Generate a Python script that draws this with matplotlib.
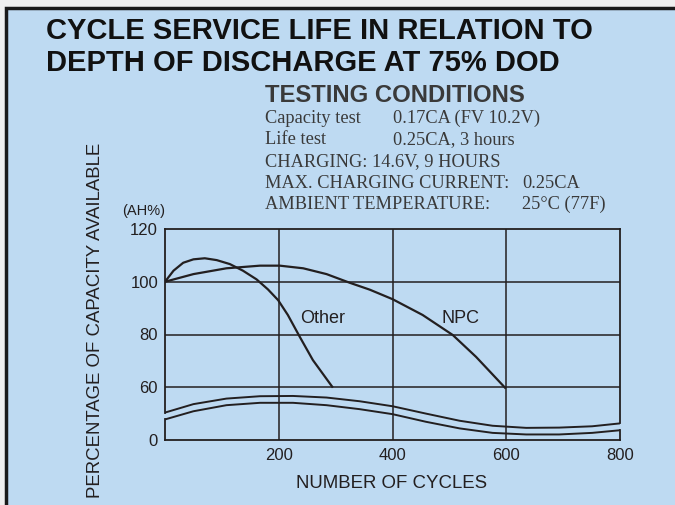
import matplotlib.pyplot as plt
from matplotlib.patches import Rectangle

# --- data ---
# y is drawn on a broken axis: tick "0" sits at position 40
y_tick_pos = [40, 60, 80, 100, 120]
y_tick_labels = ['0', '60', '80', '100', '120']
x_ticks = [200, 400, 600, 800]

other_x = [0, 15, 32, 50, 70, 91, 114, 137, 161, 181, 199, 216, 237, 260, 294]
other_y = [100, 104.2, 107.2, 108.5, 108.9, 108.2, 106.7, 104.2, 100.9, 97.1, 93, 87.4, 79.1, 70.3, 60.2]

npc_x = [0, 50, 108, 167, 202, 243, 284, 325, 360, 400, 453, 506, 547, 598]
npc_y = [100, 102.9, 105.1, 106.1, 106.1, 105.1, 102.9, 99.6, 97, 93.4, 87.4, 79.8, 71.5, 59.8]

# decorative break band near the bottom
band_x = [0, 50, 108, 167, 225, 284, 342, 400, 459, 518, 576, 635, 693, 751, 800]
band_top = [50.4, 53.6, 55.7, 56.6, 56.7, 56.1, 54.7, 52.8, 50.0, 47.3, 45.4, 44.6, 44.7, 45.2, 46.3]
band_bot = [47.8, 50.9, 53.2, 54.1, 54.1, 53.2, 51.7, 49.8, 46.9, 44.4, 42.7, 42.1, 42.1, 42.7, 43.7]

W, H = 675, 505
ink = '#231f20'
panel = '#bedaf2'
sans = 'Liberation Sans'
serif = 'Liberation Serif'

fig = plt.figure(figsize=(W / 100, H / 100), dpi=100)
fig.patch.set_facecolor('#efefef')

def fx(px):
    return px / W

def fy(py):
    return 1 - py / H

# blue panel with dark border on left/top
fig.patches.append(Rectangle((fx(6), -0.05), 1.1, fy(8) + 0.05, transform=fig.transFigure,
                             facecolor=panel, edgecolor='#1a1a1a', linewidth=2.5, zorder=-5))

# titles
fig.text(fx(46), fy(39), 'CYCLE SERVICE LIFE IN RELATION TO', fontfamily=sans, fontweight='bold',
         fontsize=21, color='#111111', va='baseline')
fig.text(fx(46), fy(71), 'DEPTH OF DISCHARGE AT 75% DOD', fontfamily=sans, fontweight='bold',
         fontsize=21, color='#111111', va='baseline')

# testing conditions block
grey = '#3a3a3a'
fig.text(fx(265), fy(101.7), 'TESTING CONDITIONS', fontfamily=sans, fontweight='bold',
         fontsize=17.2, color=grey, va='baseline')
rows = [
    (123.3, 'Capacity test', 393, '0.17CA (FV 10.2V)'),
    (144.3, 'Life test', 393, '0.25CA, 3 hours'),
    (166.0, 'CHARGING: 14.6V, 9 HOURS', None, None),
    (188.3, 'MAX. CHARGING CURRENT:', 522, '0.25CA'),
    (209.3, 'AMBIENT TEMPERATURE:', 522, '25°C (77F)'),
]
for by, left, x2, right in rows:
    fig.text(fx(265), fy(by), left, fontfamily=serif, fontsize=13.2, color=grey, va='baseline')
    if right:
        fig.text(fx(x2), fy(by), right, fontfamily=serif, fontsize=13.2, color=grey, va='baseline')

ax = fig.add_axes([fx(165), fy(440), fx(620) - fx(165), fy(229) - fy(440)])
ax.set_facecolor('none')
ax.set_xlim(0, 800)
ax.set_ylim(40, 120)

# grid
for v in [60, 80, 100]:
    ax.axhline(v, color=ink, lw=1.1, zorder=1)
for v in x_ticks[:-1]:
    ax.axvline(v, color=ink, lw=1.1, zorder=1)

# frame with breaks on the sides between the band lines
for s in ['left', 'right']:
    ax.spines[s].set_visible(False)
for s in ['top', 'bottom']:
    ax.spines[s].set_color(ink)
    ax.spines[s].set_linewidth(1.3)
ax.plot([0, 0], [band_top[0], 120], color=ink, lw=1.3, clip_on=False)
ax.plot([0, 0], [40, band_bot[0]], color=ink, lw=1.3, clip_on=False)
ax.plot([800, 800], [band_top[-1], 120], color=ink, lw=1.3, clip_on=False)
ax.plot([800, 800], [40, band_bot[-1]], color=ink, lw=1.3, clip_on=False)

ax.plot(other_x, other_y, color=ink, lw=1.6, zorder=3)
ax.plot(npc_x, npc_y, color=ink, lw=1.6, zorder=3)
ax.plot(band_x, band_top, color=ink, lw=1.4, zorder=3)
ax.plot(band_x, band_bot, color=ink, lw=1.4, zorder=3)

ax.text(237, 86.2, 'Other', fontfamily=sans, fontsize=13, color=ink, va='center')
ax.text(487, 86.2, 'NPC', fontfamily=sans, fontsize=13, color=ink, va='center')

ax.set_xticks(x_ticks)
ax.set_xticklabels([str(v) for v in x_ticks])
ax.set_yticks(y_tick_pos)
ax.set_yticklabels(y_tick_labels)
ax.tick_params(length=0, labelsize=12, colors=ink)
ax.tick_params(axis='y', pad=5)
ax.tick_params(axis='x', pad=6)
for lab in ax.get_xticklabels() + ax.get_yticklabels():
    lab.set_fontfamily(sans)

fig.text(fx(144), fy(211), '(AH%)', fontfamily=sans, fontsize=10.5, color=ink, ha='center', va='center')
fig.text(fx(392), fy(483), 'NUMBER OF CYCLES', fontfamily=sans, fontsize=13.4, color=ink,
         ha='center', va='center')
fig.text(fx(96), fy(320), 'PERCENTAGE OF CAPACITY AVAILABLE', fontfamily=sans, fontsize=13.4,
         color=ink, ha='center', va='center', rotation=90)

fig.savefig('out.png', dpi=100, facecolor=fig.get_facecolor())
